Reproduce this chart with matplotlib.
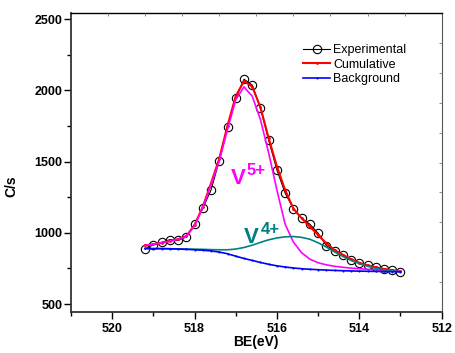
import matplotlib
matplotlib.use("Agg")
import matplotlib.pyplot as plt
from matplotlib.ticker import MultipleLocator, FixedLocator

plt.rcParams['font.family'] = ['Liberation Sans', 'DejaVu Sans']

# Binding energy (eV)
be = [519.2, 519.0, 518.8, 518.6, 518.4, 518.2, 518.0, 517.8, 517.6, 517.4,
      517.2, 517.0, 516.8, 516.6, 516.4, 516.2, 516.0, 515.8, 515.6, 515.4,
      515.2, 515.0, 514.8, 514.6, 514.4, 514.2, 514.0, 513.8, 513.6, 513.4,
      513.2, 513.0]

experimental = [886, 917, 933, 952, 947, 971, 1060, 1172, 1301, 1507,
                1741, 1945, 2079, 2038, 1875, 1650, 1441, 1278, 1170, 1102,
                1060, 997, 910, 874, 844, 809, 790, 772, 760, 748,
                739, 725]

cumulative = [912, 920, 930, 942, 956, 977, 1054, 1184, 1349, 1521,
              1753, 1960, 2066, 2027, 1882, 1664, 1465, 1300, 1170, 1102,
              1043, 985, 926, 879, 846, 815, 790, 772, 758, 746,
              738, 731]

v5 = [912, 920, 930, 942, 955, 975, 1050, 1178, 1340, 1505,
      1725, 1935, 2025, 1960, 1795, 1560, 1300, 1060, 935, 860,
      815, 790, 775, 765, 758, 752, 748, 744, 740, 737,
      734, 731]

v4 = [890, 889, 889, 888, 887, 886, 885, 884, 882, 881,
      881, 886, 897, 913, 933, 951, 964, 972, 974, 968,
      955, 930, 900, 866, 834, 806, 784, 765, 751, 740,
      732, 727]

background = [890, 889, 889, 888, 886, 884, 881, 878, 873, 865,
              853, 836, 820, 806, 792, 779, 768, 760, 753, 748,
              744, 741, 738, 736, 734, 732, 731, 730, 729, 728,
              727, 726]

fig = plt.figure(figsize=(4.56, 3.53), dpi=100)
ax = fig.add_axes([0.1557, 0.1170, 0.8129, 0.8453])

ax.plot(be, experimental, color='black', lw=0.8, marker='o', ms=6,
        mfc='none', mec='black', mew=0.8, zorder=2, label='Experimental')
ax.plot(be, cumulative, color='#ff0000', lw=1.5, marker='.', ms=2,
        zorder=3, label='Cumulative')
ax.plot(be, v5, color='#ff00ff', lw=1.2, zorder=4)
ax.plot(be, v4, color='#008080', lw=1.2, zorder=5)
ax.plot(be, background, color='#0000ff', lw=1.2, marker='.', ms=1,
        zorder=6, label='Background')

ax.set_xlim(521, 512)
ax.set_ylim(446, 2542)
ax.xaxis.set_major_locator(FixedLocator([520, 518, 516, 514, 512]))
ax.xaxis.set_minor_locator(FixedLocator([521, 519, 517, 515, 513]))
ax.yaxis.set_major_locator(MultipleLocator(500))
ax.yaxis.set_minor_locator(MultipleLocator(250))
ax.tick_params(which='major', direction='out', length=5, width=1,
               labelsize=9, top=False, right=False)
ax.tick_params(which='minor', direction='out', length=3, width=1,
               top=False, right=False)
for lab in ax.get_xticklabels() + ax.get_yticklabels():
    lab.set_fontweight('bold')
ax.tick_params(axis='x', pad=3)
ax.tick_params(axis='y', pad=1)

for s in ['left', 'bottom']:
    ax.spines[s].set_linewidth(1.3)
    ax.spines[s].set_color('#333333')
ax.spines['top'].set_linewidth(1.0)
ax.spines['right'].set_linewidth(0.8)
ax.spines['right'].set_color('#555555')

# small inward ticks on top and right frame
axt = ax.twiny()
axt.set_xlim(0, 1)
axt.set_xticks([i / 10 for i in range(1, 10)])
axt.tick_params(axis='x', direction='in', length=2, width=0.6,
                labeltop=False, color='#777777')
axr = ax.twinx()
axr.set_ylim(0, 1)
axr.set_yticks([i / 10 for i in range(1, 10)])
axr.tick_params(axis='y', direction='in', length=2, width=0.6,
                labelright=False, color='#777777')
for a in (axt, axr):
    for s in a.spines.values():
        s.set_visible(False)

ax.set_xlabel('BE(eV)', fontsize=10, fontweight='bold', labelpad=0)
ax.set_ylabel('C/s', fontsize=10, fontweight='bold')
ax.yaxis.set_label_coords(-0.143, 0.42)

# peak labels
ax.text(516.95, 1385, 'V', color='#ff00ff', fontsize=16, fontweight='bold',
        ha='center', va='center', zorder=7)
ax.text(516.5, 1440, '5+', color='#ff00ff', fontsize=12, fontweight='bold',
        ha='center', va='center', zorder=7)
ax.text(516.62, 965, 'V', color='#008080', fontsize=16, fontweight='bold',
        ha='center', va='center', zorder=7)
ax.text(516.17, 1020, '4+', color='#008080', fontsize=12, fontweight='bold',
        ha='center', va='center', zorder=7)

ax.legend(loc='upper left', bbox_to_anchor=(0.6135, 0.913), frameon=False,
          fontsize=9, handlelength=2.1, handletextpad=0.3,
          labelspacing=0.2, borderaxespad=0)

fig.savefig('out.png', dpi=100)
